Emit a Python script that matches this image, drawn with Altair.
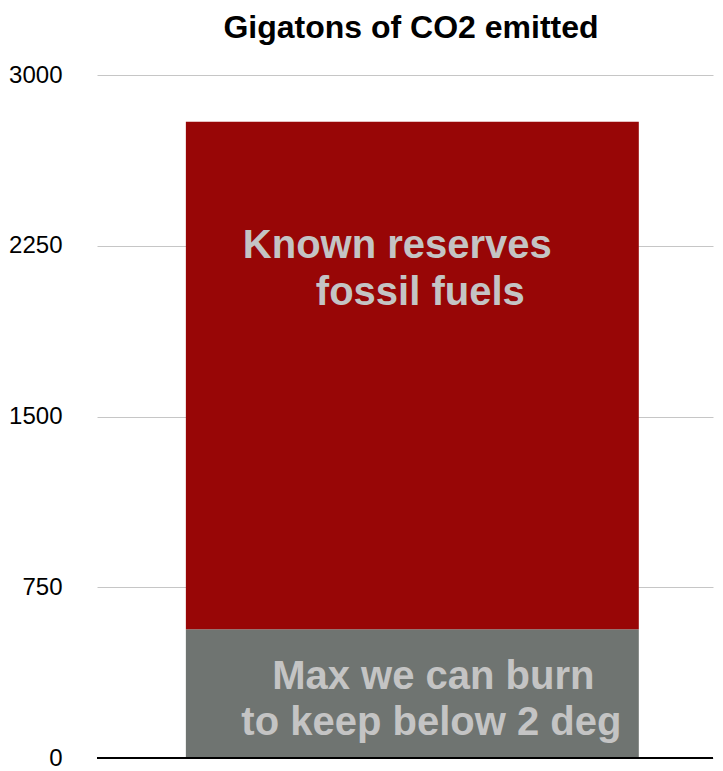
import altair as alt
import pandas as pd

# Data (gigatons of CO2)
segments = ["Max we can burn to keep below 2 deg", "Known reserves fossil fuels"]
max_burn = 565
known_reserves = 2795
starts = [0, max_burn]
ends = [max_burn, known_reserves]
colors = ["#6f7471", "#980606"]
tick_values = [0, 750, 1500, 2250, 3000]

df = pd.DataFrame({
    "cat": ["CO2"] * 2,
    "segment": segments,
    "start": starts,
    "end": ends,
})

FONT = "Liberation Sans"

xenc = alt.X("cat:N", axis=None,
             scale=alt.Scale(paddingInner=0, paddingOuter=0.18, align=0.545))
yscale = alt.Scale(domain=[0, 3000], nice=False)

bars = alt.Chart(df).mark_bar(opacity=1).encode(
    x=xenc,
    y=alt.Y("start:Q", scale=yscale, title=None,
            axis=alt.Axis(values=tick_values, format="d", domain=False, ticks=False,
                          grid=True, gridColor="#c6c6c6", gridWidth=1,
                          labelFontSize=24, labelFont=FONT, labelColor="#000",
                          labelPadding=35)),
    y2="end:Q",
    color=alt.Color("segment:N", scale=alt.Scale(domain=segments, range=colors),
                    legend=None),
)

zero = alt.Chart(pd.DataFrame({"v": [0]})).mark_rule(
    color="#000", strokeWidth=2).encode(y=alt.Y("v:Q", scale=yscale))


def label(text, yval, dx):
    return alt.Chart(pd.DataFrame({"cat": ["CO2"], "t": [text]})).mark_text(
        font=FONT, fontWeight="bold", fontSize=40, color="#c4c4c4",
        align="center", baseline="alphabetic", dx=dx,
    ).encode(x=xenc, y=alt.datum(yval, scale=yscale), text="t:N")


labels = (label("Known reserves", 2196, -15)
          + label("fossil fuels", 1990, 8)
          + label("Max we can burn", 303, 21)
          + label("to keep below 2 deg", 101, 19))

chart = alt.layer(bars, zero, labels).properties(
    width=616, height=683,
    title=alt.TitleParams("Gigatons of CO2 emitted", font=FONT, fontSize=32,
                          fontWeight="bold", color="#000", anchor="middle",
                          offset=18, dx=6),
    padding={"left": 0, "top": 4, "right": 0, "bottom": 0},
).configure_view(stroke=None)

chart.save("out.html", embed_options={"renderer": "svg", "actions": False})
